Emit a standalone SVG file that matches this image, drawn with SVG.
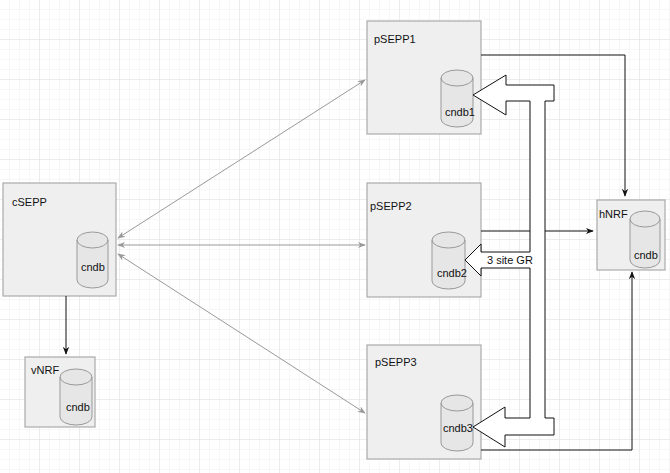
<svg xmlns="http://www.w3.org/2000/svg" width="670" height="473" viewBox="0 0 670 473">
<defs>
<pattern id="g" width="10" height="10" patternUnits="userSpaceOnUse"><path d="M10 0V10H0" fill="none" stroke="#efefef" stroke-width="1"/></pattern>
<pattern id="G" width="40" height="40" patternUnits="userSpaceOnUse"><rect width="40" height="40" fill="url(#g)"/><path d="M40 0V40H0" fill="none" stroke="#e2e2e2" stroke-width="1"/></pattern>
<marker id="ak" viewBox="0 0 10 10" refX="9" refY="5" markerWidth="8" markerHeight="8" orient="auto-start-reverse"><path d="M0 1L10 5L0 9L3 5Z" fill="#111"/></marker>
<marker id="ag" viewBox="0 0 10 10" refX="9" refY="5" markerWidth="8" markerHeight="8" orient="auto-start-reverse"><path d="M0 1L10 5L0 9L3 5Z" fill="#999"/></marker>
</defs>
<style>
.box{fill:#efefef;stroke:#aaa;stroke-width:1.2}
.cyl{fill:#e6e6e6;stroke:#999;stroke-width:1}
text{font-family:"Liberation Sans",Arial,sans-serif;font-size:11px;fill:#111}
.k{fill:none;stroke:#111;stroke-width:1}
.gr{fill:none;stroke:#999;stroke-width:1}
</style>
<rect width="670" height="473" fill="#fff"/>
<rect width="670" height="473" fill="url(#G)"/>
<g id="cSEPP"><rect class="box" x="3" y="183" width="113" height="113"/><text x="12" y="206">cSEPP</text>
<path class="cyl" d="M77 240v40a15.5 8 0 0 0 31 0v-40a15.5 8 0 0 0 -31 0a15.5 8 0 0 0 31 0"/><text x="81" y="271">cndb</text></g>
<g id="vNRF"><rect class="box" x="25" y="357" width="70" height="70"/><text x="31" y="374">vNRF</text>
<path class="cyl" d="M60 377v40a16 8 0 0 0 32 0v-40a16 8 0 0 0 -32 0a16 8 0 0 0 32 0"/><text x="66" y="411">cndb</text></g>
<g id="pSEPP1"><rect class="box" x="367" y="21" width="114" height="113"/><text x="374" y="43">pSEPP1</text>
<path class="cyl" d="M441 78v41a16 8 0 0 0 32 0v-41a16 8 0 0 0 -32 0a16 8 0 0 0 32 0"/><text x="445" y="116">cndb1</text></g>
<g id="pSEPP2"><rect class="box" x="367" y="183" width="114" height="114"/><text x="370" y="210">pSEPP2</text>
<path class="cyl" d="M432 240v41a16.5 8 0 0 0 33 0v-41a16.5 8 0 0 0 -33 0a16.5 8 0 0 0 33 0"/><text x="437" y="277">cndb2</text></g>
<g id="pSEPP3"><rect class="box" x="367" y="345" width="114" height="114"/><text x="375" y="366">pSEPP3</text>
<path class="cyl" d="M441 403v40a16 8 0 0 0 32 0v-40a16 8 0 0 0 -32 0a16 8 0 0 0 32 0"/><text x="443" y="432">cndb3</text></g>
<g id="hNRF"><rect class="box" x="597" y="200" width="68" height="70"/><text x="599" y="218">hNRF</text>
<path class="cyl" d="M630 219v41a15 8 0 0 0 30 0v-41a15 8 0 0 0 -30 0a15 8 0 0 0 30 0"/><text x="634" y="259">cndb</text></g>
<g id="connectors">
<path class="k" d="M66 296V354" marker-end="url(#ak)"/>
<path class="k" d="M481 55H625V196" marker-end="url(#ak)"/>
<path class="k" d="M481 231H593" marker-end="url(#ak)"/>
<path class="k" d="M481 450H632V272" marker-end="url(#ak)"/>
<path class="gr" d="M118 238L365 80" marker-start="url(#ag)" marker-end="url(#ag)"/>
<path class="gr" d="M118 245H365" marker-start="url(#ag)" marker-end="url(#ag)"/>
<path class="gr" d="M118 254L365 413" marker-start="url(#ag)" marker-end="url(#ag)"/>
<path d="M473 95L506 75V85H554V101H545V418H554V435H505V447L473 427L505 407V418H530V268H481V276L465 260L481 244V252H530V101H506V115Z" fill="#fff" stroke="#111" stroke-width="1"/>
<text x="487" y="264">3 site GR</text>
</g>
</svg>
